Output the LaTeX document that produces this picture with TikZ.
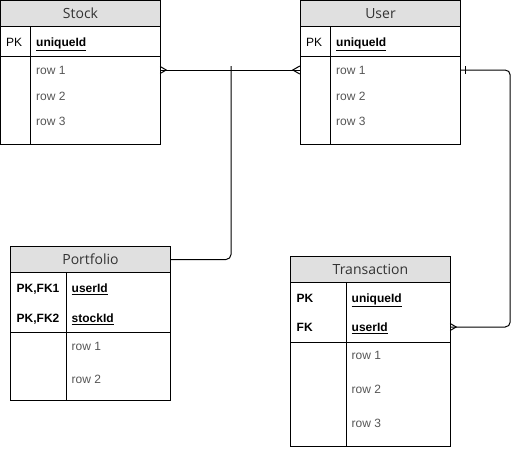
\documentclass[tikz,border=0pt]{standalone}
\usepackage{fontspec}
\setmainfont{Liberation Sans}
\newfontfamily\hdrfont{Open Sans}
\usetikzlibrary{calc}
\definecolor{hdrgray}{HTML}{E0E0E0}
\definecolor{hdrtext}{HTML}{333333}
\definecolor{rowtext}{HTML}{555555}
\tikzset{
  tblbox/.style={draw=black, line width=1pt, inner sep=0, anchor=north west, minimum width=160pt},
  hdrbox/.style={draw=black, fill=hdrgray, line width=1pt, inner sep=0, anchor=north west, minimum width=160pt, minimum height=26pt, font=\hdrfont\fontsize{14}{16}\selectfont, text=hdrtext},
  rowanchor/.style={inner sep=0, minimum width=160pt, minimum height=20pt},
  keytxt/.style={inner sep=0, anchor=base west, font=\fontsize{12}{14}\selectfont, text=black},
  keybold/.style={keytxt, font=\bfseries\fontsize{12}{14}\selectfont},
  fieldtxt/.style={inner sep=0, anchor=base west, font=\bfseries\fontsize{12}{14}\selectfont, text=black},
  rowtxt/.style={inner sep=0, anchor=base west, font=\fontsize{12}{14}\selectfont, text=rowtext},
  tline/.style={line width=1pt, black},
  conn/.style={line width=1pt, black, rounded corners=5pt},
}
\begin{document}
\begin{tikzpicture}[x=1pt,y=-1pt]
\useasboundingbox (0,0) rectangle (520,448);

% ---------- Stock ----------
\node[tblbox, minimum height=144pt] (stock) at (0,0) {};
\node[hdrbox] (stock-h) at (0,0) {Stock};
\draw[tline] (0,56) -- (160,56);
\draw[tline] (30,26) -- (30,144);
\node[keytxt] (stock-pk) at (6,46.3) {PK};
\node[fieldtxt] (stock-id) at (36,46.3) {\underline{uniqueId}};
\node[rowtxt] (stock-t1) at (36,74.3) {row 1};
\node[rowtxt] (stock-t2) at (36,100.3) {row 2};
\node[rowtxt] (stock-t3) at (36,125.3) {row 3};
\node[rowanchor] (stock-r1) at (80,70) {};

% ---------- User ----------
\node[tblbox, minimum height=144pt] (user) at (300,0) {};
\node[hdrbox] (user-h) at (300,0) {User};
\draw[tline] (300,56) -- (460,56);
\draw[tline] (330,26) -- (330,144);
\node[keytxt] (user-pk) at (306,46.3) {PK};
\node[fieldtxt] (user-id) at (336,46.3) {\underline{uniqueId}};
\node[rowtxt] (user-t1) at (336,74.3) {row 1};
\node[rowtxt] (user-t2) at (336,100.3) {row 2};
\node[rowtxt] (user-t3) at (336,125.3) {row 3};
\node[rowanchor] (user-r1) at (380,70) {};

% ---------- Portfolio ----------
\node[tblbox, minimum height=154pt] (port) at (10,246) {};
\node[hdrbox] (port-h) at (10,246) {Portfolio};
\draw[tline] (10,332) -- (170,332);
\draw[tline] (66,272) -- (66,400);
\node[keybold] (port-k1) at (16.5,292.3) {PK,FK1};
\node[fieldtxt] (port-f1) at (71.5,292.3) {\underline{userId}};
\node[keybold] (port-k2) at (16.5,322.3) {PK,FK2};
\node[fieldtxt] (port-f2) at (71.5,322.3) {\underline{stockId}};
\node[rowtxt] (port-t1) at (71.5,350.3) {row 1};
\node[rowtxt] (port-t2) at (71.5,383.8) {row 2};

% ---------- Transaction ----------
\node[tblbox, minimum height=190pt] (trans) at (290,256) {};
\node[hdrbox] (trans-h) at (290,256) {Transaction};
\draw[tline] (290,342) -- (450,342);
\draw[tline] (346,282) -- (346,446);
\node[keybold] (trans-k1) at (296.5,302.3) {PK};
\node[fieldtxt] (trans-f1) at (351.5,302.3) {\underline{uniqueId}};
\node[keybold] (trans-k2) at (296.5,331.3) {FK};
\node[fieldtxt] (trans-f2) at (351.5,331.3) {\underline{userId}};
\node[rowtxt] (trans-t1) at (351.5,359.3) {row 1};
\node[rowtxt] (trans-t2) at (351.5,393.3) {row 2};
\node[rowtxt] (trans-t3) at (351.5,427.3) {row 3};
\node[rowanchor] (trans-r2) at (370,327) {};

% ---------- Connectors ----------
% Stock (many) -- User (many)
\draw[conn] (stock-r1.east) -- (user-r1.west);
\draw[tline] ($(stock-r1.east)+(0,-3.5)$) -- ($(stock-r1.east)+(6,0)$) -- ($(stock-r1.east)+(0,3.5)$);
\draw[tline] ($(user-r1.west)+(0,-4)$) -- ($(user-r1.west)+(-7,0)$) -- ($(user-r1.west)+(0,4)$);

% Portfolio -- Stock/User link
\coordinate (junc) at (231,66);
\draw[conn] (port-h.east) -| (junc);

% User (one) -- Transaction (many)
\draw[conn] (user-r1.east) -- ++(50,0) |- (trans-r2.east);
\draw[tline] ($(user-r1.east)+(5,-4)$) -- ($(user-r1.east)+(5,4)$);
\draw[tline] ($(trans-r2.east)+(0,-3.5)$) -- ($(trans-r2.east)+(6,0)$) -- ($(trans-r2.east)+(0,3.5)$);
\end{tikzpicture}
\end{document}
